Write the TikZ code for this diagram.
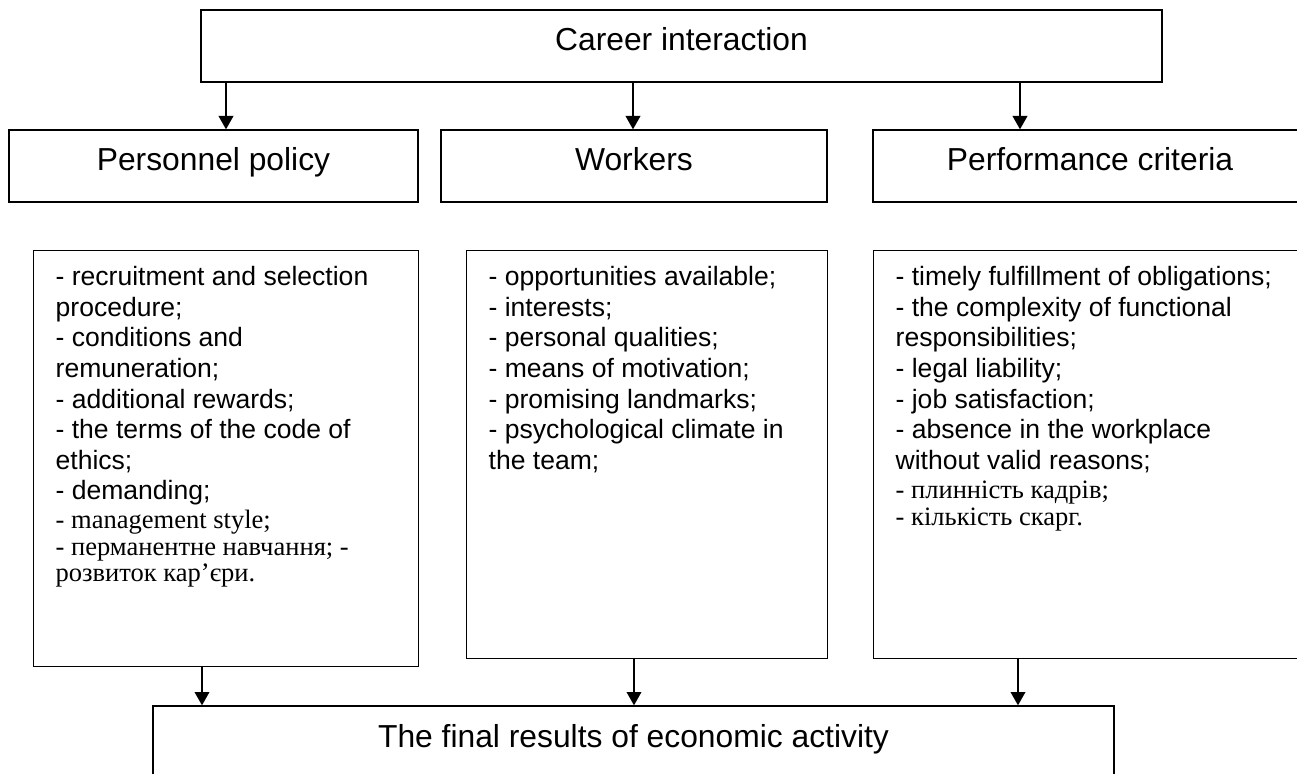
\documentclass[tikz,border=0pt]{standalone}
\usepackage{fontspec}
\setmainfont{Liberation Sans}
\newfontfamily\ukrfont{Liberation Serif}
\usetikzlibrary{arrows.meta}
\newcommand{\headfont}{\fontsize{23.85pt}{28pt}\selectfont}
\newcommand{\listfont}{\fontsize{19.9pt}{22.9pt}\selectfont}

\begin{document}
\begin{tikzpicture}[
      x=0.75pt, y=-0.75pt,
      headbox/.style={
        draw, line width=1pt, inner sep=0pt, minimum height=54pt,
        font=\headfont, text height=17pt, text depth=9.5pt
      },
      listbox/.style={
        draw, line width=1pt, anchor=north west,
        inner xsep=16.5pt, inner ysep=12pt, font=\listfont
      },
      arr/.style={-{Triangle[length=10pt, width=11pt]}, line width=1.1pt}
      ]
      \clip (0,0) rectangle (1297,774);

      \node[headbox, minimum width=720.75pt] (career) at (681.5,46) {Career interaction};
      \node[headbox, minimum width=306.75pt] (pp) at (213.5,166) {Personnel policy};
      \node[headbox, minimum width=289.5pt]  (wk) at (634,166)   {Workers};
      \node[headbox, minimum width=325.5pt]  (pc) at (1090,166)  {Performance criteria};

      \node[listbox] (ppl) at (33,250) {\parbox[t][288pt][t]{255.75pt}{%
        - recruitment and selection\\
        procedure;\\
        - conditions and\\
        remuneration;\\
        - additional rewards;\\
        - the terms of the code of\\
        ethics;\\
        - demanding;\\[-1.15pt]
        {\ukrfont - management style;}\\[-2.6pt]
        {\ukrfont - перманентне навчання; -}\\[-3.4pt]
        {\ukrfont розвиток кар’єри.}}};
      \node[listbox] (wkl) at (466,250) {\parbox[t][282pt][t]{237.75pt}{%
        - opportunities available;\\
        - interests;\\
        - personal qualities;\\
        - means of motivation;\\
        - promising landmarks;\\
        - psychological climate in\\
        the team;}};
      \node[listbox] (pcl) at (873,250) {\parbox[t][282pt][t]{292.5pt}{%
        - timely fulfillment of obligations;\\
        - the complexity of functional\\
        responsibilities;\\
        - legal liability;\\
        - job satisfaction;\\
        - absence in the workplace\\
        without valid reasons;\\[-1.15pt]
        {\ukrfont - плинність кадрів;}\\[-2.6pt]
        {\ukrfont - кількість скарг.}}};

      \node[headbox, minimum width=720.75pt] (final) at (633.5,742) {The final results of economic activity};

  % Connect the nodes
  \foreach \x/\a/\b in {226/career/pp, 633/career/wk, 1020/career/pc}
    \draw[arr] (\a.south -| \x,0) -- (\b.north -| \x,0);
  \foreach \x/\a in {202/ppl, 634/wkl, 1018/pcl}
    \draw[arr] (\a.south -| \x,0) -- (final.north -| \x,0);

\end{tikzpicture}
\end{document}
